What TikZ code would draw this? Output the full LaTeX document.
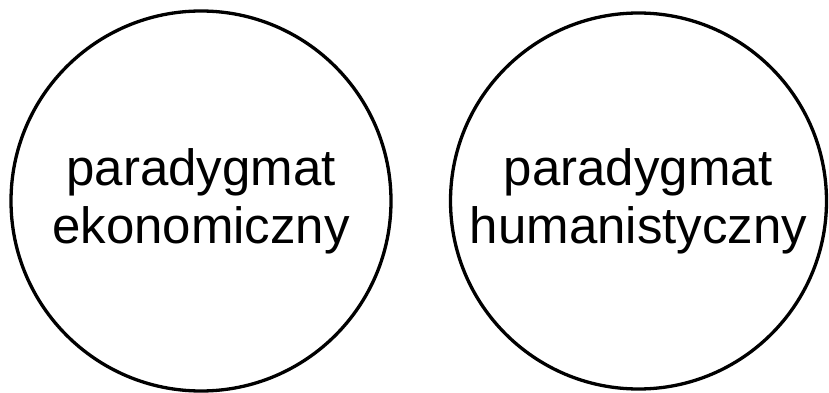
\documentclass[tikz,border=0pt]{standalone}
\usepackage{fontspec}
\setmainfont{Liberation Sans}
\begin{document}
\begin{tikzpicture}[x=1pt,y=1pt,
  bubble/.style={circle, draw=black, line width=3.3pt, inner sep=0pt, align=center,
    font=\fontsize{51}{58}\selectfont}]
\useasboundingbox (0,0) rectangle (829,-393);
\node[bubble, minimum size=380pt] (eko) at (201,-201) {paradygmat\\ekonomiczny};
\node[bubble, minimum size=376pt] (hum) at (638.5,-201) {paradygmat\\humanistyczny};
\end{tikzpicture}
\end{document}
